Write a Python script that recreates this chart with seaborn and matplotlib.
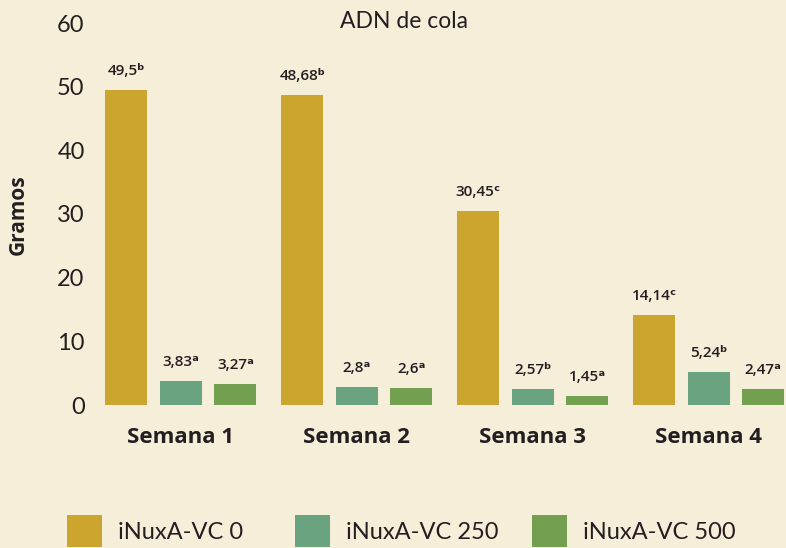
import numpy as np
import pandas as pd
import matplotlib.pyplot as plt
import seaborn as sns
from matplotlib.patches import Patch

# --- data ---------------------------------------------------------------------
semanas = ['Semana 1', 'Semana 2', 'Semana 3', 'Semana 4']
tratamientos = ['iNuxA-VC 0', 'iNuxA-VC 250', 'iNuxA-VC 500']
vc0 = [49.5, 48.68, 30.45, 14.14]
vc250 = [3.83, 2.8, 2.57, 5.24]
vc500 = [3.27, 2.6, 1.45, 2.47]
txt_vc0 = ['49,5', '48,68', '30,45', '14,14']
txt_vc250 = ['3,83', '2,8', '2,57', '5,24']
txt_vc500 = ['3,27', '2,6', '1,45', '2,47']
let_vc0 = ['ᵇ', 'ᵇ', 'ᶜ', 'ᶜ']
let_vc250 = ['ᵃ', 'ᵃ', 'ᵇ', 'ᵇ']
let_vc500 = ['ᵃ', 'ᵃ', 'ᵃ', 'ᵃ']
y_ticks = [0, 10, 20, 30, 40, 50, 60]

BG = '#F5EED9'
INK = '#231F20'
COLORS = ['#CCA52F', '#6AA37F', '#72A050']

df = pd.DataFrame({
    'Semana': semanas * 3,
    'Tratamiento': np.repeat(tratamientos, 4),
    'Gramos': vc0 + vc250 + vc500,
})

# --- plot ---------------------------------------------------------------------
sns.set_theme(style='white')
plt.rcParams['font.family'] = ['Open Sans', 'DejaVu Sans']

fig = plt.figure(figsize=(7.86, 5.48), dpi=100, facecolor=BG)
ax = fig.add_axes([93 / 786, 143 / 548, 1 - 93 / 786, (405 - 23) / 548])
ax.set_facecolor(BG)

sns.barplot(data=df, x='Semana', y='Gramos', hue='Tratamiento',
            palette=COLORS, width=0.93, gap=0.23, saturation=1,
            linewidth=0, legend=False, ax=ax)

labels = [txt_vc0, txt_vc250, txt_vc500]
letters = [let_vc0, let_vc250, let_vc500]
for cont, txts, lets in zip(ax.containers, labels, letters):
    for bar, t, l in zip(cont, txts, lets):
        ax.text(bar.get_x() + bar.get_width() / 2, bar.get_height() + 1.9,
                t + l, ha='center', va='bottom', fontsize=11,
                fontweight='semibold', color=INK,
                family=['Open Sans', 'DejaVu Sans'])

ax.set_ylim(0, 60)
ax.set_xlim(-0.5, 3.44)
ax.set_yticks(y_ticks)
ax.set_yticklabels([str(v) for v in y_ticks], fontsize=17, color=INK,
                   family='Lato')
ax.tick_params(axis='y', pad=6, length=0)
ax.tick_params(axis='x', pad=16, length=0)
ax.set_xticks(range(len(semanas)))
ax.set_xticklabels(semanas, fontsize=16, fontweight='bold', color=INK)
ax.set_xlabel('')
ax.set_ylabel('')
sns.despine(ax=ax, left=True, bottom=True)

fig.text(18 / 786, 1 - 215 / 548, 'Gramos', rotation=90, ha='center',
         va='center', fontsize=15, fontweight='bold', color=INK)
fig.text(404 / 786, 1 - 22 / 548, 'ADN de cola', ha='center', va='center',
         fontsize=16.5, color=INK, family='Lato')

# one legend entry per treatment, placed like the reference
legend_x = [67, 295, 532]
for name, col, lx in zip(tratamientos, COLORS, legend_x):
    leg = fig.legend([Patch(facecolor=col, edgecolor='none')], [name],
                     loc='center left', bbox_to_anchor=(lx / 786, 1 - 531 / 548),
                     frameon=False, borderpad=0, borderaxespad=0,
                     handlelength=1.5, handleheight=1.7, handletextpad=0.65,
                     prop={'family': 'Lato', 'size': 17})
    for t in leg.get_texts():
        t.set_color(INK)

fig.savefig('out.png', dpi=100, facecolor=BG)
